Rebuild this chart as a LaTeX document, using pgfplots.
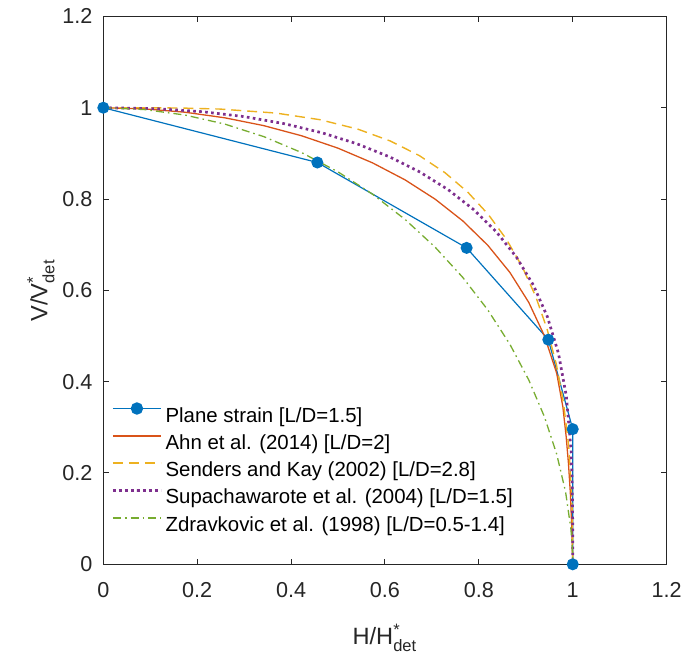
\documentclass[border=0pt]{standalone}
\usepackage{amsmath}
\usepackage{pgfplots}
\pgfplotsset{compat=1.18}
\usepackage{fontspec}
\setmainfont{Liberation Sans}
\definecolor{mblue}{rgb}{0,0.447,0.741}
\definecolor{morange}{rgb}{0.85,0.325,0.098}
\definecolor{myellow}{rgb}{0.929,0.694,0.125}
\definecolor{mpurple}{rgb}{0.494,0.184,0.556}
\definecolor{mgreen}{rgb}{0.466,0.674,0.188}
\definecolor{axgray}{rgb}{0.15,0.15,0.15}
\begin{document}
\begin{tikzpicture}
\useasboundingbox (-51.65pt,-47.35pt) rectangle (290.85pt,282.15pt);
\begin{axis}[
  at={(0pt,0pt)}, anchor=south west,
  scale only axis, width=281.65pt, height=273.95pt,
  xmin=0, xmax=1.2, ymin=0, ymax=1.2,
  xtick={0,0.2,0.4,0.6,0.8,1,1.2},
  ytick={0,0.2,0.4,0.6,0.8,1,1.2},
  clip=false,
  tick align=inside, major tick length=2.8pt,
  axis line style={axgray, line width=0.5pt},
  every tick/.style={axgray, line width=0.5pt},
  tick label style={font=\fontsize{10.8}{13}\selectfont, text=axgray},
  /pgf/number format/assume math mode=true,
  xticklabel style={anchor=base, yshift=-16.8pt},
  yticklabel style={anchor=east, xshift=-1.9pt},
  label style={font=\fontsize{11.8}{14}\selectfont, text=axgray},
  xlabel={H/H$^{\text{*}}_{\text{det}}$},
  ylabel={V/V$^{\text{*}}_{\text{det}}$},
  xlabel style={at={([yshift=-40pt]axis description cs:0.5,0)}, anchor=base},
  ylabel style={at={([xshift=-28pt]axis description cs:0,0.5)}, anchor=base},
  legend style={draw=none, fill=none, inner sep=0pt, outer sep=0pt,
    at={([xshift=4.15pt,yshift=80.6pt]axis description cs:0,0)}, anchor=north west,
    font=\fontsize{10.2}{12}\selectfont, row sep=2.65pt,
    nodes={inner xsep=1.65pt, inner ysep=0pt, text height=8.5pt, text depth=2.5pt}},
  legend cell align=left,
  legend image code/.code={\draw[mark repeat=2,mark phase=2,#1] plot coordinates {(0pt,3.75pt) (12pt,3.75pt) (24pt,3.75pt)};},
]
\addplot[color=mblue, line width=0.6pt, mark=*, mark size=2.7pt, mark options={solid, fill=mblue, draw=mblue}, legend image post style={line width=0.8pt}] coordinates {
(0,1) (0.456,0.880) (0.774,0.693) (0.948,0.492) (1,0.296) (1,0)};
\addlegendentry{Plane strain [L/D=1.5]}
\addplot[color=morange, line width=0.65pt, legend image post style={line width=0.8pt}] coordinates {
(0,1) (0.08716,0.9975) (0.17365,0.9902) (0.25882,0.9779) (0.34202,0.9607) (0.42262,0.9385) (0.5,0.9114) (0.57358,0.8792) (0.64279,0.8420) (0.70711,0.7996) (0.76604,0.7519) (0.81915,0.6986) (0.86603,0.6394) (0.90631,0.5737) (0.93969,0.5005) (0.96593,0.4181) (0.9790,0.345) (0.9860,0.28) (0.9910,0.22) (0.9950,0.155) (0.9980,0.08) (1,0)};
\addlegendentry{Ahn et al. (2014) [L/D=2]}
\addplot[color=myellow, line width=0.7pt, dash pattern=on 5pt off 3pt, legend image post style={line width=0.8pt}] coordinates {
(0,1) (0.09894,0.99988) (0.16698,0.99927) (0.24801,0.99707) (0.36773,0.98829) (0.46193,0.97369) (0.54168,0.95328) (0.61131,0.92712) (0.67295,0.89526) (0.72788,0.85773) (0.77682,0.81463) (0.82033,0.76598) (0.85873,0.71181) (0.89226,0.65209) (0.92109,0.58673) (0.94534,0.51555) (0.96508,0.43810) (0.98039,0.35356) (0.99129,0.26010) (0.99782,0.15306) (0.99946,0.08987) (0.99991,0.04442) (1,0)};
\addlegendentry{Senders and Kay (2002) [L/D=2.8]}
\addplot[color=mpurple, line width=1.35pt, dash pattern=on 1.3pt off 1.7pt] coordinates {
(0,1) (0.11430,0.99782) (0.21094,0.99129) (0.30076,0.98039) (0.38532,0.96508) (0.46506,0.94534) (0.54003,0.92109) (0.61012,0.89226) (0.67514,0.85873) (0.73487,0.82033) (0.78906,0.77682) (0.83750,0.72788) (0.87998,0.67295) (0.91627,0.61131) (0.94621,0.54168) (0.96966,0.46193) (0.98649,0.36773) (0.99661,0.24801) (0.99915,0.16698) (0.99987,0.09894) (1,0)};
\addlegendentry{Supachawarote et al. (2004) [L/D=1.5]}
\addplot[color=mgreen, line width=0.65pt, dash pattern=on 4pt off 2pt on 0.8pt off 2pt, legend image post style={line width=0.8pt}] coordinates {
(0,1) (0.08716,0.99599) (0.17365,0.98402) (0.25882,0.96417) (0.34202,0.93662) (0.42262,0.90163) (0.5,0.8595) (0.57358,0.81059) (0.64279,0.75537) (0.70711,0.69433) (0.76604,0.62801) (0.81915,0.55704) (0.86603,0.48209) (0.90631,0.40389) (0.93969,0.32324) (0.96593,0.24105) (0.98481,0.15837) (0.99619,0.07666) (0.99905,0.03699) (0.99985,0.01411) (1,0)};
\addlegendentry{Zdravkovic et al. (1998) [L/D=0.5-1.4]}
\end{axis}
\end{tikzpicture}
\end{document}
